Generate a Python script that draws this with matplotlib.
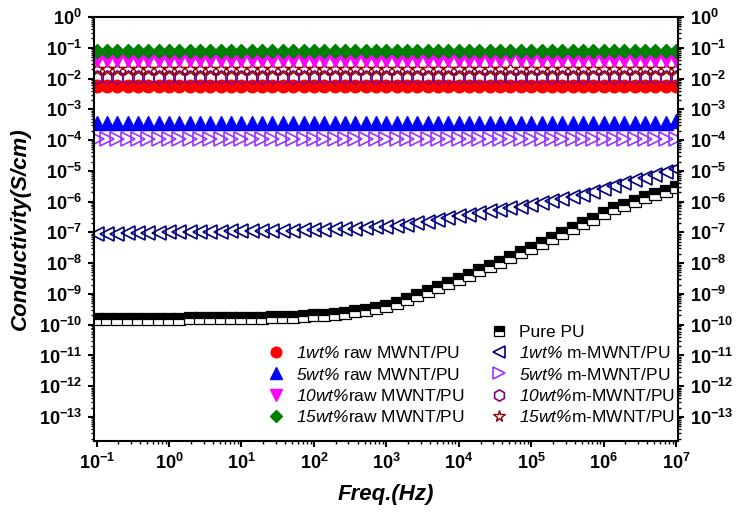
import matplotlib
matplotlib.use("Agg")
import matplotlib.pyplot as plt
import numpy as np
from matplotlib.ticker import LogLocator, NullFormatter, FixedLocator
from matplotlib.lines import Line2D

plt.rcParams['font.family'] = ['Liberation Sans', 'DejaVu Sans']
plt.rcParams['font.weight'] = 'bold'
plt.rcParams['axes.unicode_minus'] = False
plt.rcParams['mathtext.fontset'] = 'custom'
plt.rcParams['mathtext.rm'] = 'Liberation Sans:style=italic:weight=normal'
plt.rcParams['mathtext.it'] = 'Liberation Sans:style=italic:weight=normal'
plt.rcParams['mathtext.bf'] = 'Liberation Sans:weight=bold'

# ---------------- data ----------------
freq_hz = [
    0.1, 0.139, 0.193, 0.268, 0.373, 0.518, 0.720,
    1.0, 1.39, 1.93, 2.68, 3.73, 5.18, 7.20,
    10, 13.9, 19.3, 26.8, 37.3, 51.8, 72.0,
    100, 139, 193, 268, 373, 518, 720,
    1e3, 1.39e3, 1.93e3, 2.68e3, 3.73e3, 5.18e3, 7.20e3,
    1e4, 1.39e4, 1.93e4, 2.68e4, 3.73e4, 5.18e4, 7.20e4,
    1e5, 1.39e5, 1.93e5, 2.68e5, 3.73e5, 5.18e5, 7.20e5,
    1e6, 1.39e6, 1.93e6, 2.68e6, 3.73e6, 5.18e6, 7.20e6,
    1e7]

x_tick_values = [1e-1, 1e0, 1e1, 1e2, 1e3, 1e4, 1e5, 1e6, 1e7]
y_tick_values = [1e0, 1e-1, 1e-2, 1e-3, 1e-4, 1e-5, 1e-6, 1e-7, 1e-8, 1e-9,
                 1e-10, 1e-11, 1e-12, 1e-13]

# raw MWNT/PU conductivities (S/cm)
raw_1wt_e3 = [  # x 1e-3
    5.8, 5.8, 5.9, 5.8, 5.8, 5.7, 5.8,
    5.8, 5.9, 5.8, 5.8, 5.8, 5.7, 5.8,
    5.8, 5.8, 5.9, 5.8, 5.8, 5.8, 5.7,
    5.8, 5.8, 5.8, 5.9, 5.8, 5.8, 5.8,
    5.7, 5.8, 5.8, 5.8, 5.9, 5.8, 5.8,
    5.8, 5.8, 5.7, 5.8, 5.8, 5.8, 5.9,
    5.8, 5.8, 5.8, 5.8, 5.7, 5.8, 5.8,
    5.8, 5.9, 5.8, 5.8, 5.8, 5.8, 5.7,
    5.8]
raw_5wt_e4 = [  # x 1e-4
    3.6, 3.6, 3.6, 3.5, 3.6, 3.6, 3.6,
    3.6, 3.5, 3.6, 3.6, 3.6, 3.6, 3.5,
    3.6, 3.6, 3.6, 3.6, 3.6, 3.5, 3.6,
    3.6, 3.6, 3.6, 3.5, 3.6, 3.6, 3.6,
    3.6, 3.6, 3.5, 3.6, 3.6, 3.6, 3.6,
    3.6, 3.6, 3.6, 3.6, 3.5, 3.6, 3.6,
    3.6, 3.6, 3.6, 3.6, 3.6, 3.6, 3.6,
    3.6, 3.6, 3.7, 3.6, 3.6, 3.7, 3.7,
    4.1]
raw_10wt_e2 = [  # x 1e-2
    4.0, 4.0, 4.0, 4.1, 4.0, 4.0, 4.0,
    4.0, 4.1, 4.0, 4.0, 4.0, 4.0, 4.1,
    4.0, 4.0, 4.0, 4.0, 4.1, 4.0, 4.0,
    4.0, 4.0, 4.1, 4.0, 4.0, 4.0, 4.0,
    4.1, 4.0, 4.0, 4.0, 4.0, 4.1, 4.0,
    4.0, 4.0, 4.0, 4.1, 4.0, 4.7, 4.0,
    4.0, 4.1, 4.0, 4.0, 4.0, 4.0, 4.1,
    4.0, 4.0, 4.0, 4.0, 4.1, 4.0, 4.0,
    4.0]
raw_15wt_e2 = [  # x 1e-2
    8.0, 8.1, 8.0, 7.9, 8.0, 8.0, 8.1,
    8.0, 8.0, 7.9, 8.0, 8.1, 8.0, 8.0,
    8.0, 7.9, 8.0, 8.0, 8.1, 8.0, 8.0,
    8.0, 8.0, 7.9, 8.0, 8.0, 8.1, 8.0,
    8.0, 8.0, 8.0, 7.9, 8.0, 8.0, 8.1,
    8.0, 8.0, 8.0, 8.0, 7.9, 8.0, 8.0,
    8.1, 8.0, 8.0, 8.0, 8.0, 7.9, 8.0,
    8.0, 8.1, 8.0, 8.0, 8.0, 8.0, 7.9,
    8.0]

# pure PU and m-MWNT/PU
pure_pu_log10 = [
    -9.80, -9.80, -9.81, -9.80, -9.80, -9.80, -9.80,
    -9.80, -9.80, -9.79, -9.79, -9.79, -9.78, -9.78,
    -9.78, -9.77, -9.77, -9.76, -9.75, -9.74, -9.72,
    -9.70, -9.68, -9.65, -9.62, -9.57, -9.51, -9.45,
    -9.38, -9.28, -9.16, -9.03, -8.90, -8.77, -8.64,
    -8.50, -8.37, -8.23, -8.09, -7.95, -7.80, -7.65,
    -7.50, -7.35, -7.19, -7.03, -6.87, -6.71, -6.55,
    -6.36, -6.22, -6.10, -5.98, -5.86, -5.75, -5.64,
    -5.53]
m_1wt_log10 = [
    -7.05, -7.04, -7.04, -7.03, -7.02, -7.02, -7.01,
    -7.00, -7.00, -6.99, -6.99, -6.98, -6.98, -6.97,
    -6.97, -6.96, -6.96, -6.95, -6.94, -6.94, -6.93,
    -6.92, -6.91, -6.90, -6.89, -6.88, -6.86, -6.84,
    -6.82, -6.79, -6.75, -6.71, -6.66, -6.61, -6.54,
    -6.47, -6.42, -6.37, -6.32, -6.27, -6.22, -6.17,
    -6.12, -6.06, -5.99, -5.92, -5.85, -5.77, -5.68,
    -5.58, -5.49, -5.40, -5.31, -5.22, -5.13, -5.04,
    -4.95]
m_5wt_e4 = [  # x 1e-4
    1.08, 1.08, 1.07, 1.08, 1.08, 1.08, 1.09,
    1.08, 1.08, 1.08, 1.07, 1.08, 1.08, 1.08,
    1.08, 1.09, 1.08, 1.08, 1.08, 1.08, 1.07,
    1.08, 1.08, 1.08, 1.08, 1.09, 1.08, 1.08,
    1.08, 1.08, 1.07, 1.08, 1.08, 1.08, 1.08,
    1.09, 1.08, 1.08, 1.08, 1.08, 1.07, 1.08,
    1.08, 1.08, 1.08, 1.09, 1.08, 1.08, 1.08,
    1.08, 1.08, 1.08, 1.08, 1.08, 1.09, 1.09,
    1.10]
m_10wt_e2 = [  # x 1e-2
    1.15, 1.15, 1.16, 1.15, 1.15, 1.14, 1.15,
    1.15, 1.15, 1.15, 1.16, 1.15, 1.15, 1.15,
    1.14, 1.15, 1.15, 1.15, 1.15, 1.16, 1.15,
    1.15, 1.15, 1.14, 1.15, 1.15, 1.15, 1.15,
    1.16, 1.15, 1.15, 1.15, 1.14, 1.15, 1.15,
    1.15, 1.15, 1.16, 1.15, 1.15, 1.15, 1.14,
    1.15, 1.15, 1.15, 1.15, 1.16, 1.15, 1.15,
    1.15, 1.14, 1.15, 1.15, 1.15, 1.15, 1.16,
    1.15]
m_15wt_e2 = [  # x 1e-2
    2.10, 2.10, 2.11, 2.10, 2.09, 2.10, 2.10,
    2.10, 2.11, 2.10, 2.10, 2.10, 2.09, 2.10,
    2.10, 2.10, 2.10, 2.11, 2.10, 2.10, 2.10,
    2.09, 2.10, 2.10, 2.10, 2.11, 2.10, 2.10,
    2.10, 2.10, 2.09, 2.10, 2.10, 2.10, 2.11,
    2.10, 2.10, 2.10, 2.10, 2.09, 2.10, 2.10,
    2.11, 2.10, 2.10, 2.10, 2.10, 2.09, 2.10,
    2.10, 2.10, 2.11, 2.10, 2.10, 2.10, 2.10,
    2.10]

labels_raw = [r"$1wt\%$ raw MWNT/PU", r"$5wt\%$ raw MWNT/PU",
              r"$10wt\%$raw MWNT/PU", r"$15wt\%$raw MWNT/PU"]
labels_m = ["Pure PU", r"$1wt\%$ m-MWNT/PU", r"$5wt\%$ m-MWNT/PU",
            r"$10wt\%$m-MWNT/PU", r"$15wt\%$m-MWNT/PU"]

# ---------------- plot ----------------
f = np.array(freq_hz)
fig = plt.figure(figsize=(7.37, 5.24), dpi=100)
ax = fig.add_axes([0.1275, 0.1584, 0.7925, 0.8092])

h_pure, = ax.plot(f, 10 ** np.array(pure_pu_log10), ls='none', marker='s', ms=8,
                  fillstyle='top', markerfacecolor='black', markerfacecoloralt='white',
                  markeredgecolor='black', mew=0.9)
h_m1, = ax.plot(f, 10 ** np.array(m_1wt_log10), ls='none', marker='<', ms=9.5,
                mfc='none', mec='#000080', mew=1.2)
h_m5, = ax.plot(f, np.array(m_5wt_e4) * 1e-4, ls='none', marker='>', ms=9.5,
                mfc='none', mec='#9933FF', mew=1.2)
h_r5, = ax.plot(f, np.array(raw_5wt_e4) * 1e-4, ls='none', marker='^', ms=9.5,
                color='#0000FF')
h_r1, = ax.plot(f, np.array(raw_1wt_e3) * 1e-3, ls='none', marker='o', ms=9,
                color='#FF0000')
h_m10, = ax.plot(f, np.array(m_10wt_e2) * 1e-2, ls='none', marker='h', ms=9.5,
                 mfc='none', mec='#800080', mew=1.2)
h_m15, = ax.plot(f, np.array(m_15wt_e2) * 1e-2, ls='none', marker='*', ms=10,
                 mfc='none', mec='#8B0000', mew=1.0)
h_r10, = ax.plot(f, np.array(raw_10wt_e2) * 1e-2, ls='none', marker='v', ms=9.5,
                 color='#FF00FF')
h_r15, = ax.plot(f, np.array(raw_15wt_e2) * 1e-2, ls='none', marker='D', ms=7.5,
                 color='#008000')

ax.set_xscale('log')
ax.set_yscale('log')
ax.set_xlim(10 ** -1.037, 10 ** 7.028)
ax.set_ylim(10 ** -13.78, 1)

ax.xaxis.set_major_locator(FixedLocator(x_tick_values))
ax.xaxis.set_minor_locator(LogLocator(base=10, subs=np.arange(2, 10), numticks=20))
ax.xaxis.set_minor_formatter(NullFormatter())
ax.yaxis.set_major_locator(FixedLocator(y_tick_values))
ax.yaxis.set_minor_locator(LogLocator(base=10, subs=np.arange(2, 10), numticks=30))
ax.yaxis.set_minor_formatter(NullFormatter())

for s in ax.spines.values():
    s.set_linewidth(1.5)
ax.tick_params(which='major', direction='out', length=4.5, width=1.5, labelsize=13,
               top=False, right=True, labelright=True, pad=4)
ax.tick_params(which='minor', direction='out', length=2.5, width=1.0,
               top=False, right=True)

ax.set_xlabel('Freq.(Hz)', fontsize=16, fontweight='bold', fontstyle='italic', labelpad=8)
ax.set_ylabel('Conductivity(S/cm)', fontsize=16, fontweight='bold', fontstyle='italic',
              labelpad=6)

blank = Line2D([], [], ls='none', marker=None)
handles = [blank, h_r1, h_r5, h_r10, h_r15, h_pure, h_m1, h_m5, h_m10, h_m15]
labels = [' '] + labels_raw + labels_m
ax.legend(handles, labels, ncol=2, loc='upper left', bbox_to_anchor=(0.285, 0.29),
          frameon=False, prop={'family': 'Liberation Sans', 'weight': 'normal', 'size': 12.5},
          handlelength=1.0, handletextpad=0.65, columnspacing=1.5, labelspacing=0.3,
          markerscale=0.85, borderpad=0.4, borderaxespad=0)

fig.savefig('out.png', dpi=100)
